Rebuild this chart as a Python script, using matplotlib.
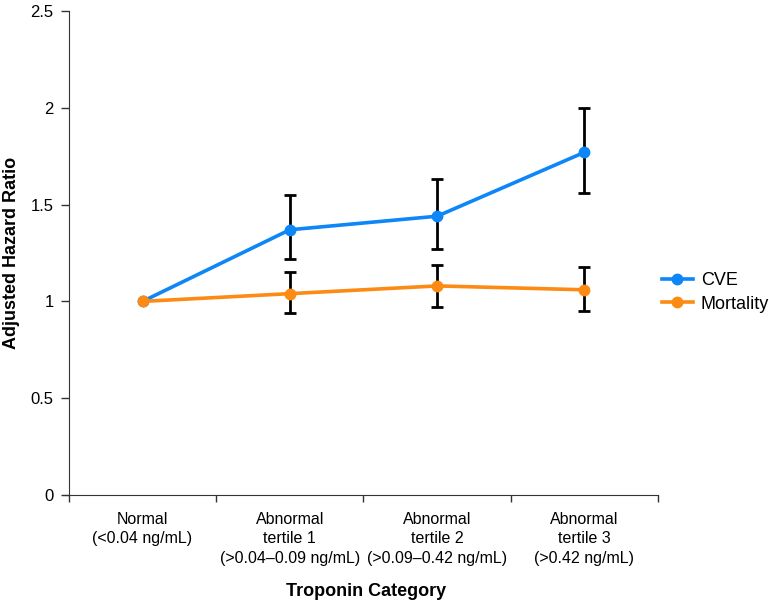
import numpy as np
import matplotlib
matplotlib.use("Agg")
import matplotlib.pyplot as plt

plt.rcParams['font.family'] = ['Liberation Sans', 'DejaVu Sans']

# Data
categories = ["Normal\n(<0.04 ng/mL)",
              "Abnormal\ntertile 1\n(>0.04\u20130.09 ng/mL)",
              "Abnormal\ntertile 2\n(>0.09\u20130.42 ng/mL)",
              "Abnormal\ntertile 3\n(>0.42 ng/mL)"]
cve = [1.0, 1.37, 1.44, 1.77]
cve_low = [1.0, 1.22, 1.27, 1.56]
cve_high = [1.0, 1.55, 1.63, 2.0]
mort = [1.0, 1.04, 1.08, 1.06]
mort_low = [1.0, 0.94, 0.97, 0.95]
mort_high = [1.0, 1.15, 1.19, 1.18]
yticks = [0, 0.5, 1, 1.5, 2, 2.5]
ytick_labels = ["0", "0.5", "1", "1.5", "2", "2.5"]

blue = "#0D86F8"
orange = "#FD8A12"

x = np.arange(len(categories)) + 0.5

fig = plt.figure(figsize=(7.69, 6.01), dpi=100)
ax = fig.add_axes([63 / 769, 1 - 495 / 601, 595 / 769, 484 / 601])

cve = np.array(cve); mort = np.array(mort)
for vals, lo, hi in [(cve, cve_low, cve_high), (mort, mort_low, mort_high)]:
    err = np.array([vals - np.array(lo), np.array(hi) - vals])
    ax.errorbar(x[1:], vals[1:], yerr=err[:, 1:], fmt="none",
                ecolor="black", elinewidth=2, capsize=4.5, capthick=2, zorder=2)

ax.plot(x, cve, color=blue, lw=2.6, marker="o", ms=7.5, label="CVE", zorder=3)
ax.plot(x, mort, color=orange, lw=2.6, marker="o", ms=7.5, label="Mortality", zorder=4)

ax.set_ylim(0, 2.5)
ax.set_xlim(-0.04, 4.0)
ax.spines["top"].set_visible(False)
ax.spines["right"].set_visible(False)
ax.spines["left"].set_position(("data", 0))
ax.spines["left"].set_color("#333333")
ax.spines["bottom"].set_color("#333333")

ax.set_yticks(yticks)
ax.set_yticklabels(ytick_labels, fontsize=12)
ax.tick_params(axis="y", length=6, width=1, pad=5, color="#333333")

ax.set_xticks(np.arange(5), minor=True)
ax.tick_params(axis="x", which="minor", length=5, width=1, color="#333333")
ax.set_xticks(x)
ax.set_xticklabels(categories, fontsize=11.5, linespacing=1.4)
ax.tick_params(axis="x", which="major", length=0, pad=12)

ax.set_ylabel("Adjusted Hazard Ratio", fontsize=13, fontweight="bold", va="center")
ax.yaxis.set_label_coords(-51 / 595, 0.5)
ax.set_xlabel("Troponin Category", fontsize=13, fontweight="bold", va="center")
ax.xaxis.set_label_coords(0.51, -96 / 484)

fig.legend(loc="center left", bbox_to_anchor=(662 / 769, 1 - 292.5 / 601), frameon=False,
           fontsize=13, handlelength=1.7, handletextpad=0.45, labelspacing=0.35,
           borderpad=0, borderaxespad=0)

fig.savefig("out.png", dpi=100)
